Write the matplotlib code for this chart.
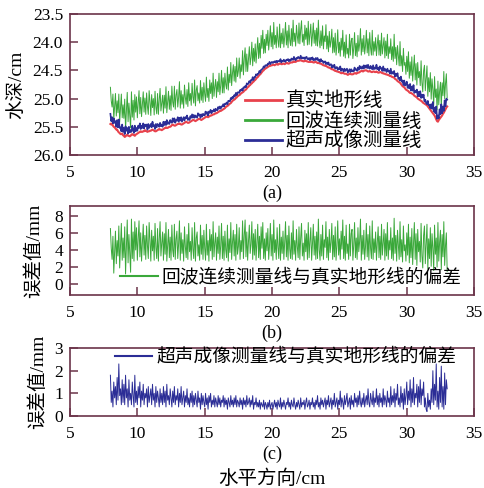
import numpy as np
import matplotlib
matplotlib.use('Agg')
import matplotlib.pyplot as plt

plt.rcParams['font.family'] = ['Liberation Serif', 'Noto Sans CJK SC']
plt.rcParams['axes.unicode_minus'] = False

# true terrain depth, cm (x = 8 ... 33, step 0.0625, one row per cm)
terrain = [
    25.45, 25.46, 25.44, 25.48, 25.50, 25.51, 25.53, 25.55, 25.55, 25.58, 25.60, 25.61, 25.63, 25.63, 25.62, 25.65,
    25.66, 25.68, 25.67, 25.65, 25.64, 25.66, 25.66, 25.67, 25.66, 25.64, 25.63, 25.64, 25.65, 25.66, 25.64, 25.63,
    25.62, 25.61, 25.60, 25.59, 25.58, 25.59, 25.59, 25.58, 25.58, 25.56, 25.57, 25.58, 25.59, 25.58, 25.58, 25.57,
    25.57, 25.56, 25.55, 25.56, 25.57, 25.58, 25.58, 25.57, 25.56, 25.55, 25.54, 25.55, 25.55, 25.56, 25.55, 25.54,
    25.53, 25.52, 25.51, 25.52, 25.52, 25.51, 25.50, 25.50, 25.49, 25.47, 25.46, 25.47, 25.48, 25.48, 25.47, 25.46,
    25.45, 25.45, 25.44, 25.45, 25.46, 25.46, 25.45, 25.44, 25.43, 25.42, 25.41, 25.42, 25.43, 25.43, 25.42, 25.41,
    25.40, 25.39, 25.38, 25.38, 25.39, 25.40, 25.39, 25.38, 25.37, 25.36, 25.36, 25.37, 25.38, 25.37, 25.36, 25.35,
    25.34, 25.33, 25.32, 25.32, 25.33, 25.32, 25.31, 25.30, 25.30, 25.29, 25.28, 25.28, 25.27, 25.26, 25.26, 25.25,
    25.24, 25.23, 25.22, 25.22, 25.21, 25.20, 25.19, 25.18, 25.17, 25.15, 25.14, 25.13, 25.12, 25.10, 25.09, 25.08,
    25.06, 25.04, 25.03, 25.02, 25.01, 24.99, 24.98, 24.96, 24.95, 24.94, 24.93, 24.91, 24.90, 24.89, 24.88, 24.86,
    24.85, 24.84, 24.82, 24.80, 24.79, 24.77, 24.76, 24.74, 24.73, 24.71, 24.70, 24.68, 24.67, 24.65, 24.63, 24.62,
    24.60, 24.58, 24.57, 24.55, 24.53, 24.51, 24.50, 24.48, 24.47, 24.46, 24.45, 24.44, 24.43, 24.42, 24.42, 24.41,
    24.41, 24.40, 24.40, 24.41, 24.40, 24.39, 24.39, 24.40, 24.39, 24.38, 24.38, 24.39, 24.39, 24.38, 24.38, 24.39,
    24.38, 24.37, 24.37, 24.38, 24.38, 24.37, 24.36, 24.36, 24.36, 24.35, 24.34, 24.35, 24.35, 24.34, 24.33, 24.33,
    24.33, 24.32, 24.32, 24.33, 24.33, 24.34, 24.34, 24.33, 24.33, 24.34, 24.34, 24.35, 24.35, 24.35, 24.34, 24.35,
    24.35, 24.36, 24.36, 24.35, 24.35, 24.36, 24.37, 24.37, 24.37, 24.38, 24.38, 24.39, 24.40, 24.41, 24.41, 24.42,
    24.42, 24.43, 24.44, 24.45, 24.45, 24.46, 24.47, 24.48, 24.48, 24.49, 24.50, 24.51, 24.51, 24.52, 24.52, 24.53,
    24.53, 24.54, 24.55, 24.55, 24.54, 24.55, 24.56, 24.56, 24.56, 24.57, 24.58, 24.57, 24.56, 24.56, 24.57, 24.57,
    24.57, 24.56, 24.55, 24.55, 24.56, 24.55, 24.54, 24.54, 24.53, 24.52, 24.51, 24.51, 24.52, 24.51, 24.50, 24.50,
    24.50, 24.51, 24.52, 24.52, 24.51, 24.52, 24.53, 24.53, 24.52, 24.52, 24.53, 24.53, 24.52, 24.53, 24.54, 24.54,
    24.53, 24.53, 24.54, 24.55, 24.55, 24.56, 24.56, 24.57, 24.57, 24.58, 24.58, 24.59, 24.60, 24.60, 24.61, 24.62,
    24.62, 24.63, 24.65, 24.66, 24.67, 24.69, 24.70, 24.71, 24.72, 24.74, 24.76, 24.78, 24.79, 24.80, 24.82, 24.84,
    24.85, 24.86, 24.87, 24.89, 24.90, 24.90, 24.91, 24.92, 24.93, 24.95, 24.96, 24.97, 24.98, 25.00, 25.01, 25.02,
    25.03, 25.04, 25.05, 25.07, 25.08, 25.09, 25.10, 25.11, 25.12, 25.14, 25.16, 25.18, 25.20, 25.22, 25.24, 25.26,
    25.28, 25.30, 25.33, 25.37, 25.40, 25.41, 25.38, 25.36, 25.34, 25.32, 25.30, 25.27, 25.25, 25.22, 25.19, 25.16,
    25.14,
]

# echo continuous measurement minus true terrain, mm
echo_err = [
    6.5, 4.2, 2.9, 5.6, 1.3, 3.8, 6.2, 2.4, 5.1, 3.3, 6.8, 1.9, 4.6, 7.1, 2.8, 5.4,
    3.1, 6.7, 1.2, 4.4, 7.5, 2.5, 5.8, 3.6, 1.4, 7.6, 3.0, 6.1, 2.7, 7.3, 4.0, 6.6,
    2.8, 5.3, 7.4, 3.2, 6.0, 2.7, 4.9, 7.0, 3.4, 5.7, 2.9, 6.8, 4.5, 3.0, 7.2, 5.1,
    2.7, 6.3, 3.9, 5.6, 2.8, 7.1, 4.3, 3.0, 6.5, 2.7, 5.2, 7.3, 3.3, 4.8, 6.1, 2.8,
    5.9, 3.5, 7.2, 2.7, 4.6, 6.4, 3.1, 5.5, 2.8, 6.9, 4.0, 3.2, 7.0, 2.9, 5.3, 6.2,
    3.0, 4.7, 7.4, 2.8, 6.0, 3.6, 5.2, 2.7, 6.7, 4.4, 3.1, 5.8, 2.9, 7.1, 3.8, 5.0,
    2.8, 6.6, 4.1, 3.0, 7.2, 2.7, 5.4, 6.1, 3.3, 4.6, 2.8, 6.9, 3.5, 5.7, 2.9, 6.3,
    4.2, 2.8, 7.0, 3.4, 5.1, 2.7, 6.4, 3.9, 5.8, 2.9, 7.3, 3.2, 4.8, 6.0, 2.8, 5.5,
    3.6, 6.8, 2.9, 4.5, 7.1, 3.0, 5.6, 2.8, 6.2, 4.0, 3.1, 6.9, 2.7, 5.3, 3.7, 7.2,
    2.9, 4.9, 6.3, 3.3, 5.8, 2.8, 7.0, 3.5, 4.4, 6.6, 2.9, 5.1, 3.8, 7.4, 3.0, 5.7,
    7.5, 3.2, 6.1, 2.8, 5.0, 6.9, 3.6, 4.7, 7.3, 2.9, 5.9, 3.4, 6.4, 2.8, 4.8, 7.0,
    3.1, 5.6, 2.9, 6.7, 4.2, 7.2, 3.0, 5.3, 2.8, 6.0, 3.9, 6.5, 2.9, 4.6, 7.1, 3.3,
    5.8, 2.8, 7.5, 3.7, 5.2, 2.9, 6.6, 4.3, 3.0, 7.0, 2.8, 5.5, 3.6, 6.2, 2.9, 4.9,
    7.3, 3.2, 5.7, 2.8, 6.8, 4.1, 3.0, 6.0, 2.9, 7.4, 3.5, 5.1, 2.8, 6.4, 4.4, 3.1,
    6.7, 2.9, 5.4, 7.1, 3.3, 4.8, 2.8, 6.3, 3.8, 5.9, 2.9, 7.2, 3.1, 5.0, 6.6, 2.8,
    4.7, 7.0, 3.4, 5.6, 2.9, 6.1, 3.0, 7.6, 4.0, 2.8, 5.8, 3.3, 6.9, 2.9, 5.2, 4.3,
    7.3, 3.1, 5.5, 2.8, 6.4, 3.7, 4.9, 7.1, 2.9, 5.7, 3.2, 6.7, 2.8, 4.5, 7.4, 3.4,
    5.3, 2.9, 6.2, 4.1, 7.5, 3.0, 5.6, 2.8, 6.9, 3.6, 4.7, 2.9, 7.0, 3.3, 5.9, 6.4,
    2.8, 4.6, 7.2, 3.1, 5.4, 2.9, 6.6, 3.8, 5.0, 7.6, 2.8, 5.7, 3.5, 6.3, 2.9, 4.4,
    7.1, 3.2, 5.8, 2.8, 6.8, 4.2, 3.0, 7.4, 2.9, 5.3, 3.7, 6.1, 2.8, 4.9, 6.7, 3.1,
    5.6, 2.9, 7.0, 3.4, 4.8, 6.4, 2.8, 5.9, 3.3, 7.2, 2.9, 5.1, 4.0, 6.6, 3.0, 5.4,
    2.8, 7.7, 3.6, 5.7, 2.7, 6.3, 4.5, 2.9, 7.3, 3.2, 5.2, 2.6, 6.8, 3.9, 4.6, 2.7,
    6.0, 3.4, 7.0, 2.5, 5.5, 3.1, 6.5, 2.3, 4.8, 7.2, 2.9, 5.9, 2.2, 6.4, 3.8, 5.0,
    2.6, 7.1, 3.3, 1.9, 5.7, 6.8, 2.4, 4.6, 7.0, 1.8, 5.3, 3.0, 6.6, 2.1, 5.9, 4.2,
    1.6, 6.9, 3.5, 5.4, 2.0, 7.2, 2.7, 4.9, 6.3, 1.7, 5.8, 3.2, 7.3, 2.2, 4.5, 6.0,
    1.5,
]

# ultrasonic imaging measurement minus true terrain, mm
sonar_err = [
    1.8, 0.6, 1.1, 0.4, 1.5, 0.8, 1.3, 0.5, 1.7, 0.7, 2.3, 0.9, 1.2, 0.5, 1.6, 0.6,
    1.4, 0.5, 1.8, 0.8, 1.2, 0.4, 1.6, 0.7, 1.0, 0.5, 1.5, 0.9, 0.4, 1.8, 0.6, 1.1,
    0.5, 1.3, 0.8, 1.5, 0.4, 1.1, 0.7, 1.4, 0.5, 1.0, 0.8, 1.2, 0.4, 1.3, 0.6, 0.9,
    1.2, 0.5, 1.4, 0.7, 1.0, 0.4, 1.3, 0.6, 1.1, 0.8, 0.4, 1.2, 0.6, 1.0, 0.5, 1.3,
    0.6, 1.1, 0.4, 1.4, 0.7, 0.9, 0.5, 1.2, 0.8, 0.4, 1.1, 0.6, 1.3, 0.5, 0.9, 0.7,
    1.2, 0.4, 1.0, 0.6, 1.3, 0.5, 0.8, 1.1, 0.4, 0.9, 0.6, 1.2, 0.5, 0.8, 0.4, 1.0,
    0.6, 1.1, 0.4, 0.9, 0.5, 1.0, 0.7, 0.4, 1.1, 0.6, 0.8, 0.3, 1.0, 0.5, 0.9, 0.6,
    0.4, 1.0, 0.5, 0.8, 0.3, 0.9, 0.6, 1.0, 0.4, 0.7, 0.5, 0.9, 0.4, 0.8, 0.6, 0.4,
    0.9, 0.5, 0.8, 0.4, 0.7, 0.6, 0.9, 0.4, 0.8, 0.5, 0.7, 0.3, 0.8, 0.6, 0.4, 0.9,
    0.5, 0.7, 0.4, 0.8, 0.5, 0.9, 0.4, 0.7, 0.6, 0.4, 0.8, 0.5, 0.7, 0.3, 0.8, 0.5,
    0.7, 0.4, 0.9, 0.5, 0.6, 0.8, 0.4, 0.7, 0.5, 0.9, 0.3, 0.6, 0.5, 0.8, 0.4, 0.6,
    0.4, 0.7, 0.3, 0.6, 0.5, 0.4, 0.7, 0.3, 0.6, 0.5, 0.3, 0.6, 0.4, 0.7, 0.3, 0.5,
    0.6, 0.3, 0.5, 0.7, 0.4, 0.6, 0.3, 0.7, 0.5, 0.4, 0.8, 0.3, 0.6, 0.4, 0.7, 0.5,
    0.3, 0.6, 0.5, 0.8, 0.4, 0.6, 0.3, 0.7, 0.5, 0.4, 0.8, 0.5, 0.3, 0.6, 0.4, 0.7,
    0.5, 0.3, 0.8, 0.4, 0.6, 0.5, 0.7, 0.3, 0.6, 0.8, 0.4, 0.5, 0.7, 0.3, 0.6, 0.5,
    0.8, 0.4, 0.6, 0.3, 0.7, 0.5, 0.9, 0.4, 0.6, 0.3, 0.8, 0.5, 0.7, 0.4, 0.6, 0.8,
    0.3, 0.7, 0.5, 0.9, 0.4, 0.6, 0.8, 0.3, 0.7, 0.5, 1.0, 0.4, 0.6, 0.8, 0.3, 0.7,
    0.5, 1.1, 0.4, 0.8, 0.6, 0.3, 0.9, 0.5, 0.7, 1.0, 0.4, 0.6, 0.8, 0.3, 0.9, 0.5,
    0.7, 0.4, 1.0, 0.6, 0.8, 0.4, 0.9, 0.5, 1.1, 0.6, 0.4, 0.8, 0.5, 1.0, 0.4, 0.7,
    0.9, 0.5, 1.2, 0.6, 0.4, 1.0, 0.7, 0.5, 1.1, 0.4, 0.8, 0.6, 1.2, 0.5, 0.9, 0.4,
    1.0, 0.6, 0.8, 0.4, 1.2, 0.5, 0.9, 0.7, 0.4, 1.1, 0.6, 0.8, 0.4, 1.3, 0.5, 0.9,
    0.6, 1.2, 0.4, 1.0, 0.7, 1.4, 0.5, 0.8, 0.4, 1.3, 0.6, 1.0, 0.3, 1.2, 0.5, 0.9,
    1.5, 0.5, 1.1, 0.7, 1.6, 0.4, 1.2, 0.6, 1.7, 0.5, 1.0, 0.8, 1.4, 0.4, 1.3, 0.6,
    1.6, 0.5, 1.2, 0.9, 1.5, 0.4, 0.8, 0.3, 0.2, 1.0, 0.4, 0.7, 0.3, 1.2, 0.6, 2.0,
    0.5, 1.4, 0.7, 2.3, 0.4, 1.1, 0.3, 1.7, 0.6, 2.2, 0.4, 1.3, 0.3, 1.9, 0.5, 1.6,
    1.2,
]

x = np.linspace(8.0, 33.0, len(terrain))
terrain = np.array(terrain)
echo_err = np.array(echo_err)
sonar_err = np.array(sonar_err)
echo_line = terrain - echo_err / 10.0
sonar_line = terrain - sonar_err / 10.0

frame = '#6b3449'
c_red = '#e8424c'
c_green = '#3aa83a'
c_blue = '#2b2d96'
tick_fs = 12.5


def style(ax):
    for s in ax.spines.values():
        s.set_color(frame)
        s.set_linewidth(1.2)
    ax.tick_params(direction='in', length=6, width=1.1, color=frame,
                   labelsize=tick_fs, top=False, right=False)
    ax.tick_params(axis='x', pad=7)
    ax.tick_params(axis='y', pad=5)
    ax.set_xlim(5, 35)
    ax.set_xticks([5, 10, 15, 20, 25, 30, 35])


fig = plt.figure(figsize=(4.84, 4.88), dpi=100)

# (a) depth profiles
ax1 = fig.add_axes([0.1446, 0.6824, 0.835, 0.289])
ax1.plot(x, terrain, color=c_red, lw=1.5, label='真实地形线')
ax1.plot(x, echo_line, color=c_green, lw=0.7, label='回波连续测量线')
ax1.plot(x, sonar_line, color=c_blue, lw=1.2, label='超声成像测量线')
ax1.set_ylim(26.0, 23.5)
ax1.set_yticks([23.5, 24.0, 24.5, 25.0, 25.5, 26.0])
ax1.set_yticklabels(['23.5', '24.0', '24.5', '25.0', '25.5', '26.0'])
style(ax1)
ax1.set_ylabel('水深/cm', fontsize=14)
ax1.yaxis.set_label_coords(-0.11, 0.5)
leg = ax1.legend(loc='upper left', bbox_to_anchor=(0.433, 0.45), frameon=False,
                 fontsize=14, handlelength=1.9, handletextpad=0.2,
                 labelspacing=0.08, borderpad=0, borderaxespad=0)
for h in leg.legend_handles:
    h.set_linewidth(2.0)

# (b) echo deviation
ax2 = fig.add_axes([0.1446, 0.3955, 0.835, 0.1824])
ax2.plot(x, echo_err, color=c_green, lw=0.7, label='回波连续测量线与真实地形线的偏差')
ax2.set_ylim(-1.25, 9.13)
ax2.set_yticks([0, 2, 4, 6, 8])
style(ax2)
ax2.set_ylabel('误差值/mm', fontsize=14)
ax2.yaxis.set_label_coords(-0.067, 0.5)
leg = ax2.legend(loc='upper left', bbox_to_anchor=(0.124, 0.30), frameon=False,
                 fontsize=13.5, handlelength=2.0, handletextpad=0.2,
                 borderpad=0, borderaxespad=0)
leg.legend_handles[0].set_linewidth(1.5)

# (c) ultrasonic deviation
ax3 = fig.add_axes([0.1446, 0.1475, 0.835, 0.1393])
ax3.plot(x, sonar_err, color=c_blue, lw=0.7, label='超声成像测量线与真实地形线的偏差')
ax3.set_ylim(0, 3)
ax3.set_yticks([0, 1, 2, 3])
style(ax3)
ax3.set_ylabel('误差值/mm', fontsize=14)
ax3.yaxis.set_label_coords(-0.057, 0.5)
leg = ax3.legend(loc='upper left', bbox_to_anchor=(0.111, 1.0), frameon=False,
                 fontsize=13.5, handlelength=2.0, handletextpad=0.2,
                 borderpad=0, borderaxespad=0)
leg.legend_handles[0].set_linewidth(1.5)

fig.text(272 / 484, 1 - 193 / 488, '(a)', ha='center', va='center', fontsize=13)
fig.text(272 / 484, 1 - 333 / 488, '(b)', ha='center', va='center', fontsize=13)
fig.text(272 / 484, 1 - 454 / 488, '(c)', ha='center', va='center', fontsize=13)
fig.text(272 / 484, 1 - 479 / 488, '水平方向/cm', ha='center', va='center', fontsize=14)

fig.savefig('out.png', dpi=100)
